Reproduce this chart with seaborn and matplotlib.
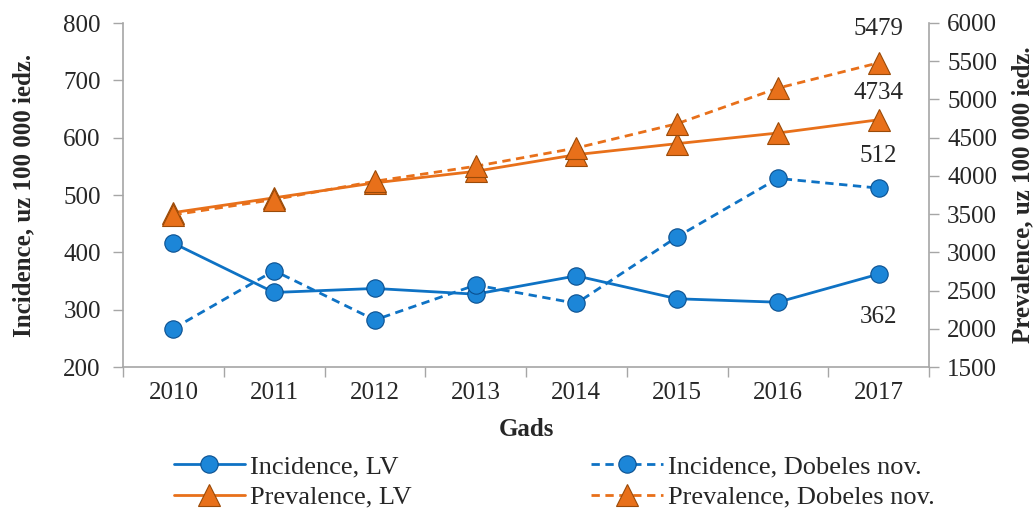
import matplotlib
matplotlib.use("Agg")
import matplotlib.pyplot as plt
import seaborn as sns
import numpy as np
import pandas as pd

years = ["2010", "2011", "2012", "2013", "2014", "2015", "2016", "2017"]
incidence_lv = [416, 330, 337, 327, 359, 319, 313, 362]
incidence_dob = [267, 368, 282, 343, 311, 427, 529, 512]
prevalence_lv = [3520, 3713, 3909, 4060, 4278, 4422, 4561, 4734]
prevalence_dob = [3490, 3691, 3930, 4126, 4365, 4683, 5148, 5479]

labels = ["Incidence, LV", "Incidence, Dobeles nov.",
          "Prevalence, LV", "Prevalence, Dobeles nov."]

sns.set_theme(style="white")
plt.rcParams["font.family"] = ["Liberation Serif", "DejaVu Serif"]

BLUE = "#0E72C4"
BLUE_EDGE = "#0A4F8F"
ORANGE = "#E8701A"
ORANGE_EDGE = "#9A4A08"
SPINE = "#A6A6A6"
FS = 18

fig = plt.figure(figsize=(10.36, 5.12), dpi=100)
ax = fig.add_axes([123 / 1036, 1 - 367 / 512, (929 - 123) / 1036, (367 - 23) / 512])
ax2 = ax.twinx()

idx = np.arange(len(years))
df = pd.DataFrame({"x": idx, "inc_lv": incidence_lv, "inc_dob": incidence_dob,
                   "prev_lv": prevalence_lv, "prev_dob": prevalence_dob})

sns.lineplot(data=df, x="x", y="inc_lv", ax=ax, color=BLUE, lw=2, marker="o",
             markersize=12.5, markerfacecolor="#1C86D8", markeredgecolor=BLUE_EDGE,
             markeredgewidth=0.8, label=labels[0], zorder=3)
sns.lineplot(data=df, x="x", y="inc_dob", ax=ax, color=BLUE, lw=2, linestyle=(0, (3, 2)),
             marker="o", markersize=12.5, markerfacecolor="#1C86D8", markeredgecolor=BLUE_EDGE,
             markeredgewidth=0.8, label=labels[1], zorder=3)
sns.lineplot(data=df, x="x", y="prev_lv", ax=ax2, color=ORANGE, lw=2, marker="^",
             markersize=16, markerfacecolor=ORANGE, markeredgecolor=ORANGE_EDGE,
             markeredgewidth=0.8, label=labels[2], zorder=3)
sns.lineplot(data=df, x="x", y="prev_dob", ax=ax2, color=ORANGE, lw=2, linestyle=(0, (3, 2)),
             marker="^", markersize=16, markerfacecolor=ORANGE, markeredgecolor=ORANGE_EDGE,
             markeredgewidth=0.8, label=labels[3], zorder=3)

h1, l1 = ax.get_legend_handles_labels()
h2, l2 = ax2.get_legend_handles_labels()
for a in (ax, ax2):
    if a.get_legend() is not None:
        a.get_legend().remove()

ax.set_xlim(-0.5, len(years) - 0.5)
ax.set_ylim(200, 800)
ax2.set_ylim(1500, 6000)
ax.set_yticks(np.arange(200, 801, 100))
ax2.set_yticks(np.arange(1500, 6001, 500))

ax.set_xticks(np.arange(-0.5, len(years), 1.0))
ax.set_xticklabels([])
ax.set_xticks(idx, minor=True)
ax.set_xticklabels(years, minor=True)
ax.tick_params(axis="x", which="major", length=7, width=1, color=SPINE, direction="out", bottom=True)
ax.tick_params(axis="x", which="minor", length=0, labelsize=FS, pad=11)
ax.tick_params(axis="y", length=7, width=1, color=SPINE, direction="out", left=True, labelsize=FS, pad=9)
ax2.tick_params(axis="y", length=7, width=1, color=SPINE, direction="out", right=True, labelsize=FS, pad=6)

for a in (ax, ax2):
    a.spines["top"].set_visible(False)
    for s in ("left", "right", "bottom"):
        a.spines[s].set_color(SPINE)
        a.spines[s].set_linewidth(1.2)
ax.spines["right"].set_visible(False)
ax2.spines["left"].set_visible(False)
ax2.spines["bottom"].set_visible(False)

ax.set_xlabel("Gads", fontsize=FS, fontweight="bold", labelpad=10)
ax.set_ylabel("Incidence, uz 100 000 iedz.", fontsize=FS, fontweight="bold", labelpad=20)
ax2.set_ylabel("Prevalence, uz 100 000 iedz.", fontsize=FS, fontweight="bold", labelpad=10)

ax.grid(False)
ax2.grid(False)

last = len(years) - 1
ax2.annotate(str(prevalence_dob[-1]), (last, prevalence_dob[-1]), xytext=(0, 24),
             textcoords="offset points", ha="center", va="center", fontsize=FS)
ax2.annotate(str(prevalence_lv[-1]), (last, prevalence_lv[-1]), xytext=(0, 19),
             textcoords="offset points", ha="center", va="center", fontsize=FS)
ax.annotate(str(incidence_dob[-1]), (last, incidence_dob[-1]), xytext=(0, 23),
            textcoords="offset points", ha="center", va="center", fontsize=FS)
ax.annotate(str(incidence_lv[-1]), (last, incidence_lv[-1]), xytext=(0, -31),
            textcoords="offset points", ha="center", va="center", fontsize=FS)

handles = [h1[0], h2[0], h1[1], h2[1]]
leg_labels = [l1[0], l2[0], l1[1], l2[1]]
fig.legend(handles, leg_labels, ncol=2, loc="center", bbox_to_anchor=(0.535, 1 - 482 / 512),
           frameon=False, fontsize=19, handlelength=2.7, columnspacing=6.8,
           handletextpad=0.2, labelspacing=0.25, borderpad=0)

fig.savefig("out.png", dpi=100)
